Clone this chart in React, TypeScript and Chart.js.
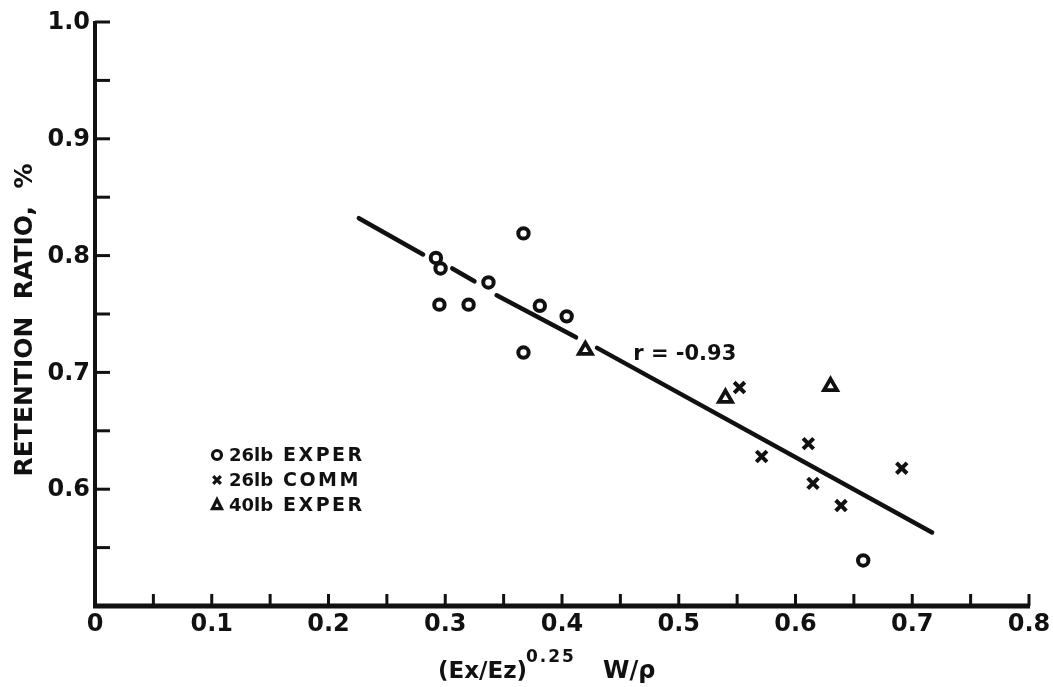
import React, { useEffect, useRef } from "react";
import { Chart, registerables } from "chart.js";

Chart.register(...registerables);

// 26 lb experimental panels
const exper26X = [0.292, 0.296, 0.295, 0.32, 0.337, 0.367, 0.381, 0.404, 0.367, 0.658];
const exper26Y = [0.798, 0.789, 0.758, 0.758, 0.777, 0.819, 0.757, 0.748, 0.717, 0.539];
// 26 lb commercial panels
const comm26X = [0.552, 0.571, 0.611, 0.615, 0.639, 0.691];
const comm26Y = [0.687, 0.628, 0.639, 0.605, 0.586, 0.618];
// 40 lb experimental panels
const exper40X = [0.42, 0.54, 0.63];
const exper40Y = [0.719, 0.678, 0.688];

// Regression line, drawn in pieces broken where it passes the markers
const fitSegX = [
  [0.226, 0.281],
  [0.306, 0.325],
  [0.344, 0.412],
  [0.43, 0.717],
];
const fitSegY = [
  [0.832, 0.801],
  [0.789, 0.778],
  [0.766, 0.73],
  [0.721, 0.563],
];
const fitLabel = "r = -0.93";
const fitLabelAt = { x: 0.461, y: 0.715 };

const xMajorTicks = [0, 0.1, 0.2, 0.3, 0.4, 0.5, 0.6, 0.7, 0.8];
const xTickLabels = ["0", "0.1", "0.2", "0.3", "0.4", "0.5", "0.6", "0.7", "0.8"];
const xMinorTicks = [0.05, 0.15, 0.25, 0.35, 0.45, 0.55, 0.65, 0.75];
const yMajorTicks = [0.5, 0.6, 0.7, 0.8, 0.9, 1.0];
const yTickLabels = ["", "0.6", "0.7", "0.8", "0.9", "1.0"];
const yMinorTicks = [0.55, 0.65, 0.75, 0.85, 0.95];

const legendNumbers = ["26lb", "26lb", "40lb"];
const legendKinds = ["EXPER", "COMM", "EXPER"];
const yTitle = "RETENTION  RATIO,  %";

const INK = "#111";
const FONT = "'DejaVu Sans', sans-serif";

const toPoints = (xs: number[], ys: number[]) => xs.map((x, i) => ({ x, y: ys[i] }));

function drawMarker(ctx: CanvasRenderingContext2D, kind: string, x: number, y: number, r: number) {
  ctx.save();
  ctx.strokeStyle = INK;
  ctx.fillStyle = "#fff";
  ctx.lineWidth = 3.2;
  ctx.beginPath();
  if (kind === "circle") {
    ctx.arc(x, y, r, 0, Math.PI * 2);
    ctx.fill();
    ctx.stroke();
  } else if (kind === "cross") {
    ctx.moveTo(x - r, y - r);
    ctx.lineTo(x + r, y + r);
    ctx.moveTo(x + r, y - r);
    ctx.lineTo(x - r, y + r);
    ctx.stroke();
  } else {
    ctx.moveTo(x, y - r * 1.2);
    ctx.lineTo(x + r, y + r * 0.8);
    ctx.lineTo(x - r, y + r * 0.8);
    ctx.closePath();
    ctx.fill();
    ctx.stroke();
  }
  ctx.restore();
}

const framePlugin = {
  id: "frame",
  afterDraw(chart: any) {
    const { ctx, chartArea, scales } = chart;
    const xs = scales.x;
    const ys = scales.y;
    const left = chartArea.left;
    const bottom = chartArea.bottom;
    ctx.save();
    ctx.strokeStyle = INK;
    ctx.fillStyle = INK;
    ctx.lineCap = "butt";

    // axes
    ctx.lineWidth = 4;
    ctx.beginPath();
    ctx.moveTo(left, ys.getPixelForValue(1.0) - 1);
    ctx.lineTo(left, bottom + 2);
    ctx.stroke();
    ctx.lineWidth = 5;
    ctx.beginPath();
    ctx.moveTo(left - 2, bottom);
    ctx.lineTo(xs.getPixelForValue(0.8) + 1, bottom);
    ctx.stroke();

    // inward ticks
    ctx.lineWidth = 3;
    [...yMajorTicks, ...yMinorTicks].forEach((v) => {
      if (v === 0.5) return;
      const py = ys.getPixelForValue(v);
      ctx.beginPath();
      ctx.moveTo(left, py);
      ctx.lineTo(left + 15, py);
      ctx.stroke();
    });
    [...xMajorTicks, ...xMinorTicks].forEach((v) => {
      if (v === 0) return;
      const px = xs.getPixelForValue(v);
      ctx.beginPath();
      ctx.moveTo(px, bottom);
      ctx.lineTo(px, bottom - 12);
      ctx.stroke();
    });

    // tick labels
    ctx.font = `bold 24px ${FONT}`;
    ctx.textAlign = "right";
    ctx.textBaseline = "middle";
    yMajorTicks.forEach((v, i) => {
      if (!yTickLabels[i]) return;
      ctx.fillText(yTickLabels[i], left - 5, ys.getPixelForValue(v) + 1);
    });
    ctx.textAlign = "center";
    xMajorTicks.forEach((v, i) => {
      ctx.fillText(xTickLabels[i], xs.getPixelForValue(v), bottom + 19);
    });

    // y title
    ctx.save();
    ctx.translate(25, 320);
    ctx.rotate(-Math.PI / 2);
    ctx.font = `bold 25px ${FONT}`;
    ctx.textAlign = "center";
    ctx.textBaseline = "middle";
    ctx.fillText(yTitle, 0, 0);
    ctx.restore();

    // x title with superscript exponent
    ctx.textAlign = "left";
    ctx.textBaseline = "alphabetic";
    ctx.font = `bold 23px ${FONT}`;
    ctx.fillText("(Ex/Ez)", 438, 678);
    ctx.font = `bold 17px ${FONT}`;
    (ctx as any).letterSpacing = "2px";
    ctx.fillText("0.25", 526, 662);
    (ctx as any).letterSpacing = "0px";
    ctx.font = `bold 24px ${FONT}`;
    ctx.fillText("W/\u03c1", 603, 678);

    // correlation label
    ctx.font = `bold 21px ${FONT}`;
    ctx.textBaseline = "middle";
    ctx.fillText(fitLabel, xs.getPixelForValue(fitLabelAt.x), ys.getPixelForValue(fitLabelAt.y));

    // legend
    const kinds = ["circle", "cross", "triangle"];
    legendNumbers.forEach((num, i) => {
      const cy = 455 + i * 25;
      drawMarker(ctx, kinds[i], 217, cy, i === 1 ? 3.8 : 4.5);
      ctx.fillStyle = INK;
      ctx.font = `bold 18px ${FONT}`;
      (ctx as any).letterSpacing = "0px";
      ctx.fillText(num, 229, cy + 1);
      ctx.font = `bold 19px ${FONT}`;
      (ctx as any).letterSpacing = "2.5px";
      ctx.fillText(legendKinds[i], 283, cy + 1);
    });
    (ctx as any).letterSpacing = "0px";
    ctx.restore();
  },
};

export default function App() {
  const canvasRef = useRef<HTMLCanvasElement | null>(null);

  useEffect(() => {
    document.body.style.margin = "0";
    const canvas = canvasRef.current;
    if (!canvas) return;

    const lineSets = fitSegX.map((seg, i) => ({
      type: "line" as const,
      data: toPoints(seg, fitSegY[i]),
      borderColor: INK,
      borderWidth: 4.5,
      borderCapStyle: "round" as const,
      pointRadius: 0,
      showLine: true,
      fill: false,
      order: 5,
    }));

    const chart = new Chart(canvas, {
      type: "scatter",
      data: {
        datasets: [
          {
            label: `${legendNumbers[0]} ${legendKinds[0]}`,
            data: toPoints(exper26X, exper26Y),
            pointStyle: "circle",
            pointRadius: 5.2,
            pointBorderWidth: 4,
            borderColor: INK,
            backgroundColor: "#fff",
            order: 1,
          },
          {
            label: `${legendNumbers[1]} ${legendKinds[1]}`,
            data: toPoints(comm26X, comm26Y),
            pointStyle: "crossRot",
            pointRadius: 7.5,
            pointBorderWidth: 4,
            borderColor: INK,
            backgroundColor: INK,
            order: 1,
          },
          {
            label: `${legendNumbers[2]} ${legendKinds[2]}`,
            data: toPoints(exper40X, exper40Y),
            pointStyle: "triangle",
            pointRadius: 7.5,
            pointBorderWidth: 3.8,
            borderColor: INK,
            backgroundColor: "#fff",
            order: 1,
          },
          ...lineSets,
        ] as any,
      },
      options: {
        animation: false,
        responsive: false,
        devicePixelRatio: 1,
        layout: { padding: { left: 95, right: 24, top: 22, bottom: 81 } },
        plugins: { legend: { display: false }, tooltip: { enabled: false } },
        scales: {
          x: { type: "linear", min: 0, max: 0.8, display: false },
          y: { type: "linear", min: 0.5, max: 1.0, display: false },
        },
        clip: false as any,
      },
      plugins: [framePlugin],
    });

    return () => chart.destroy();
  }, []);

  return (
    <div style={{ position: "absolute", left: 0, top: 0, width: 1053, height: 687, background: "#fff" }}>
      <canvas ref={canvasRef} width={1053} height={687} style={{ display: "block" }} />
    </div>
  );
}
